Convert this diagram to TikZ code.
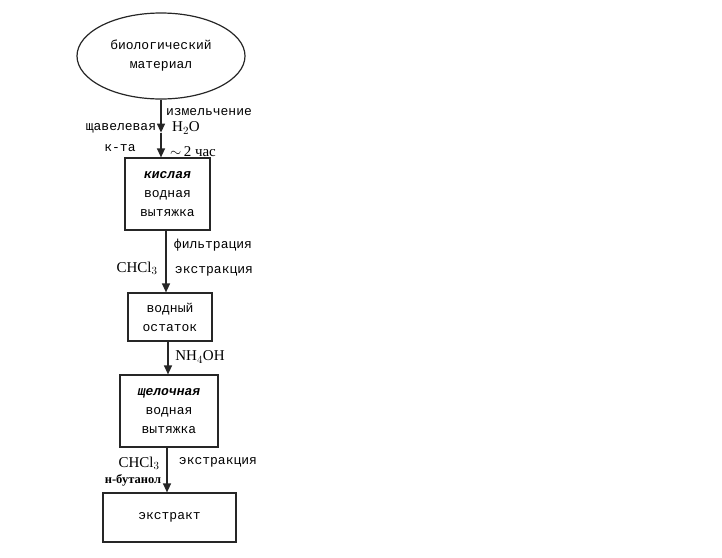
\documentclass[tikz,border=0pt]{standalone}
\usepackage{fontspec}
\setmainfont{Liberation Serif}
\newfontfamily\monofont{Liberation Mono}
\usepackage{tikz}
\usetikzlibrary{positioning,calc,arrows.meta,shapes.geometric}

\tikzset{
  stage/.style={draw=black!85,line width=1.2pt,rectangle,align=center,
    font=\monofont\fontsize{13}{19}\selectfont,inner sep=0pt},
  mono/.style={font=\monofont\fontsize{13}{19}\selectfont,inner sep=0pt},
  chem/.style={font=\fontsize{15}{17}\selectfont,inner sep=0pt},
}

\begin{document}
\begin{tikzpicture}[x=1pt,y=-1pt]
\useasboundingbox (0,0) rectangle (722,557);

% stages
\node[stage,ellipse,minimum width=168pt,minimum height=86pt] (mat) at (161,56)
  {биологический\\материал};
\node[stage,minimum width=85pt,minimum height=72pt] (acid) at (167.5,194)
  {\textbf{\textit{кислая}}\\водная\\вытяжка};
\node[stage,minimum width=84pt,minimum height=48pt] (rest) at (170,317)
  {водный\\остаток};
\node[stage,minimum width=98pt,minimum height=72pt] (alk) at (169,411)
  {\textbf{\textit{щелочная}}\\водная\\вытяжка};
\node[stage,minimum width=133pt,minimum height=49pt] (extr) at (169.5,517.5)
  {экстракт};

% labels
\node[mono] (grind) at (209,112) {измельчение};
\node[chem] (water) at (186,128) {H$_2$O};
\node[mono] (oxal) at (121,128) {щавелевая};
\node[mono] (oxalb) at (120,148) {к-та};
\node[chem] (time) at (193,152) {$\sim$\,2 час};
\node[mono] (filt) at (213,245) {фильтрация};
\node[chem] (chl1) at (137,268) {CHCl$_3$};
\node[mono] (ext1) at (214,271) {экстракция};
\node[chem] (amm) at (200,357) {NH$_4$OH};
\node[chem] (chl2) at (139,463) {CHCl$_3$};
\node[font=\bfseries\fontsize{12.5}{14}\selectfont,inner sep=0pt] (but) at (133,480) {н-бутанол};
\node[mono] (ext2) at (218,462) {экстракция};

\coordinate (mid) at ($(mat.south)+(0,33)$);
\coordinate (s1) at ($(acid.south)+(-1.5,0)$);
\coordinate (s2) at ($(rest.south)+(-2,0)$);
\coordinate (s3) at ($(alk.south)+(-2,0)$);

\begin{scope}[>={Triangle[length=9pt,width=8pt]},line width=1.3pt,draw=black!85]
    \draw[->] (mat.south) -- (mid);
    \draw[->] (mid) -- (mid |- acid.north);
    \draw[->] (s1) -- (s1 |- rest.north);
    \draw[->] (s2) -- (s2 |- alk.north);
    \draw[->] (s3) -- (s3 |- extr.north);
\end{scope}
\end{tikzpicture}
\end{document}
